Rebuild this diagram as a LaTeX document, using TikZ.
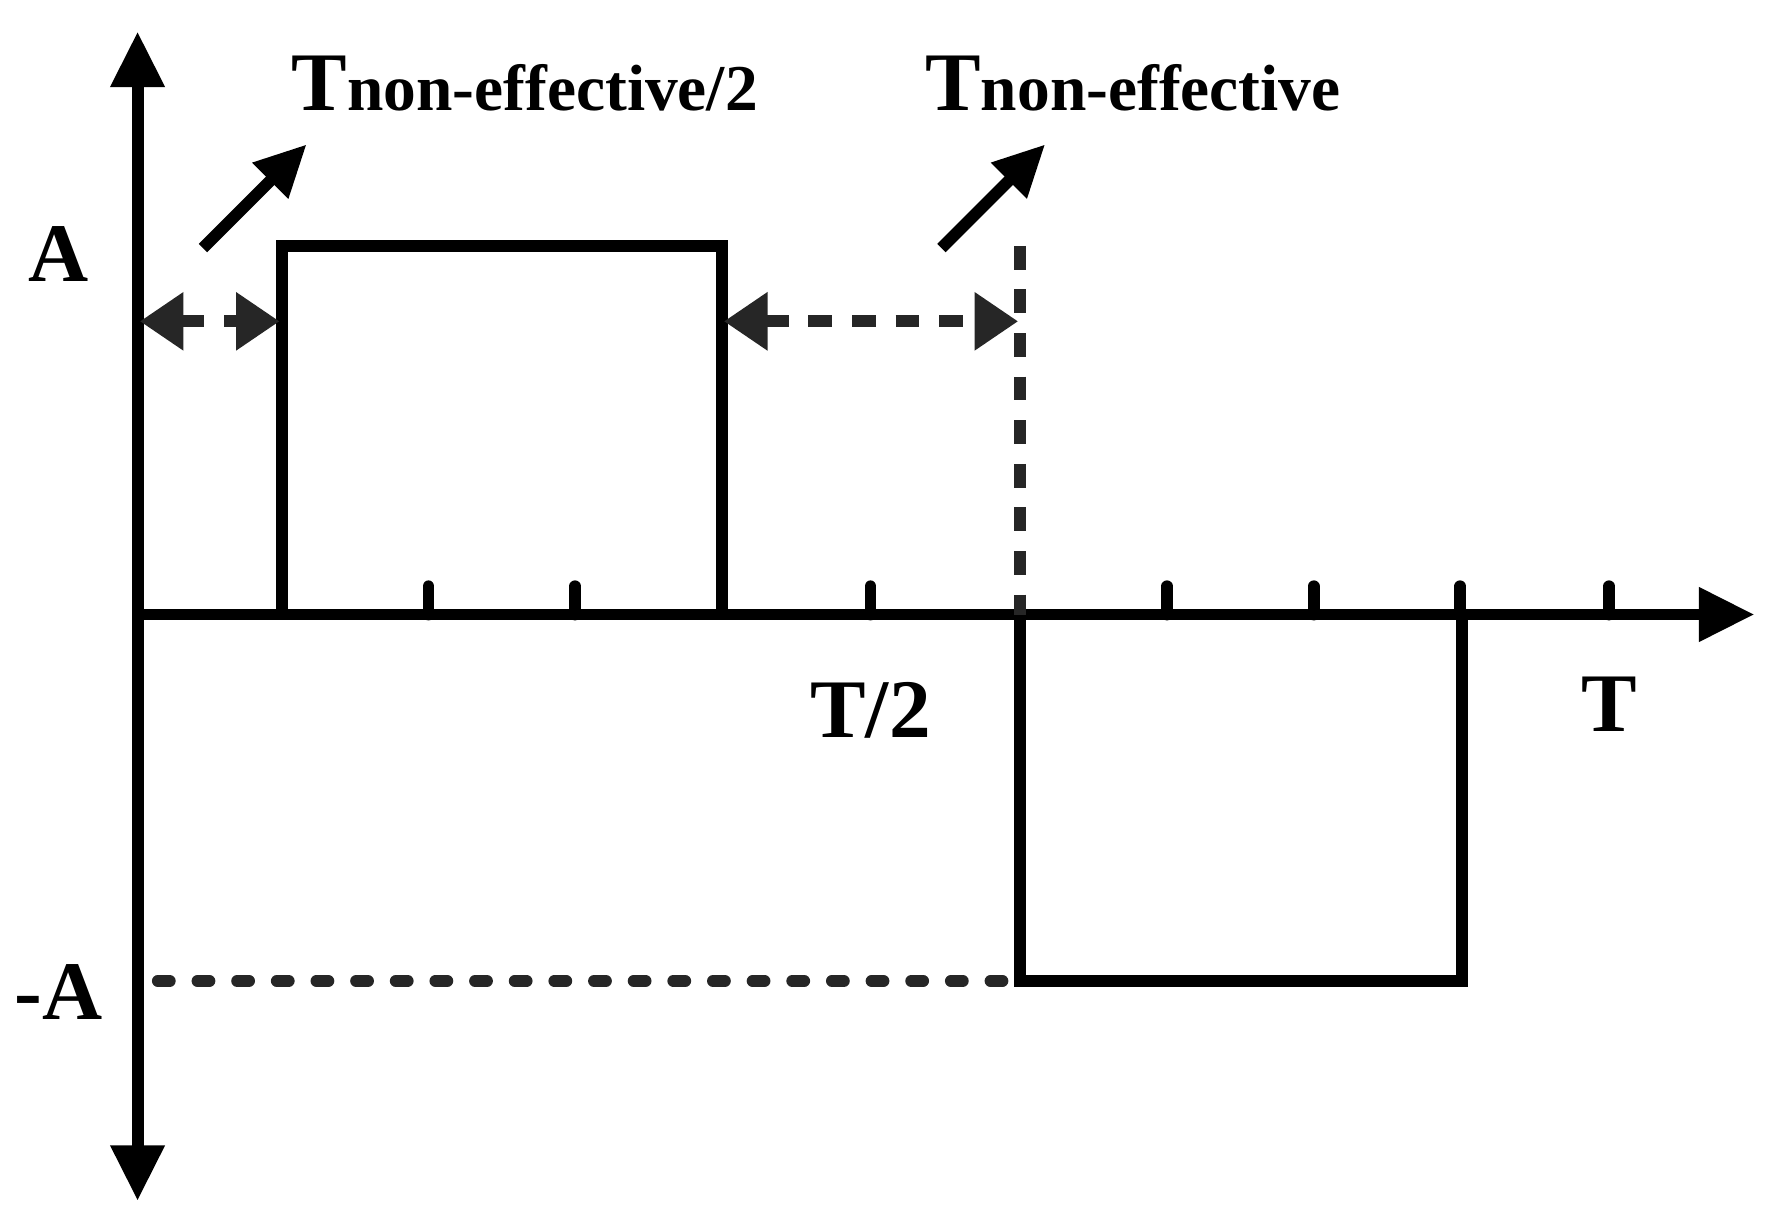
\documentclass[tikz,border=0pt]{standalone}
\usepackage{fontspec}
\setmainfont{Liberation Serif}
\usetikzlibrary{arrows.meta}
\begin{document}
\begin{tikzpicture}[x=0.01cm,y=-0.01cm,
  ax/.style={line width=3pt,-{Triangle[length=14pt,width=13pt]}},
  sig/.style={line width=3pt},
  dsh/.style={line width=3pt,dash pattern=on 6pt off 5pt,color=black!85},
  dots/.style={line width=3pt,line cap=round,dash pattern=on 3pt off 7pt,color=black!85},
  dbl/.style={line width=3pt,dash pattern=on 6pt off 5pt,color=black!85,{Triangle[length=11pt,width=14pt]}-{Triangle[length=11pt,width=14pt]}},
  pt/.style={line width=3pt,-{Triangle[length=13pt,width=12pt]}},
  lab/.style={font=\bfseries\fontsize{21}{24}\selectfont, inner sep=0pt},
  tk/.style={line width=3pt,line cap=round}]
\useasboundingbox (0,0) rectangle (1568,1089);
\coordinate (O) at (122,545);
\coordinate (yt) at (122,28);
\coordinate (yb) at (122,1065);
\coordinate (xr) at (1556,545);
\draw[ax] (O) -- (yt);
\draw[ax] (O) -- (yb);
\draw[ax] (O) -- (xr);
\foreach \x [count=\i] in {380,510,772,1035,1165,1295,1427}
  \draw[tk] (\x,545) coordinate (t\i) -- (\x,520);
\coordinate (p1) at (250,545); \coordinate (p2) at (250,218);
\coordinate (p3) at (640,218); \coordinate (p4) at (640,545);
\draw[sig] (p1) -- (p2) -- (p3) -- (p4);
\coordinate (n0) at (905,218); \coordinate (n1) at (905,545);
\coordinate (n2) at (905,870); \coordinate (n3) at (1297,870); \coordinate (n4) at (1297,545);
\draw[dsh] (n0) -- (n1);
\draw[sig] (n1) -- (n2) -- (n3) -- (n4);
\coordinate (m0) at (140,870);
\draw[dots] (m0) -- (n2);
\coordinate (d1) at (124,285); \coordinate (d2) at (248,285);
\coordinate (d3) at (642,285); \coordinate (d4) at (903,285);
\draw[dbl] (d1) -- (d2);
\draw[dbl] (d3) -- (d4);
\coordinate (a1) at (180,220); \coordinate (a2) at (272,128);
\coordinate (b1) at (835,220); \coordinate (b2) at (927,128);
\draw[pt] (a1) -- (a2);
\draw[pt] (b1) -- (b2);
\node[lab] (A) at (52,225) {A};
\node[lab] (mA) at (52,880) {-A};
\node[lab] (T2) at (772,630) {T/2};
\node[lab] (T) at (1427,625) {T};
\node[lab,anchor=base west] (L1) at (258,98) {T\fontsize{16.5}{18}\selectfont non-effective/2};
\node[lab,anchor=base west] (L2) at (820,98) {T\fontsize{16.5}{18}\selectfont non-effective};
\end{tikzpicture}
\end{document}
